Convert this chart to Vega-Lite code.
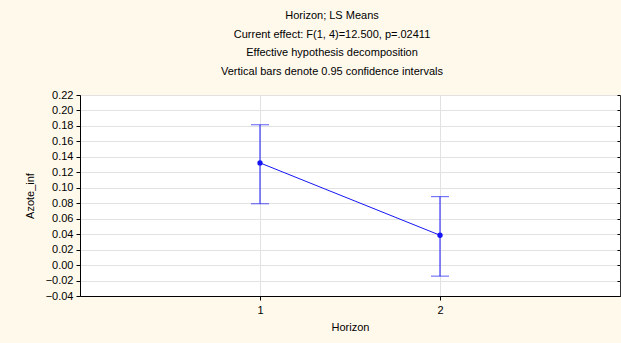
{
  "$schema": "https://vega.github.io/schema/vega-lite/v6.json",
  "autosize": "none",
  "width": 540,
  "height": 201,
  "padding": {"left": 80, "top": 95, "right": 1, "bottom": 47},
  "background": "#FFF9EC",
  "config": {
    "font": "Liberation Sans",
    "view": {"fill": "#FFFFFF", "stroke": "#333333", "strokeWidth": 1},
    "axis": {
      "labelFont": "Liberation Sans",
      "titleFont": "Liberation Sans",
      "labelFontSize": 11,
      "titleFontSize": 11,
      "titleFontWeight": "normal",
      "labelColor": "#000000",
      "titleColor": "#000000",
      "domainColor": "#000000",
      "tickColor": "#000000",
      "gridColor": "#E2E2E2",
      "gridWidth": 1,
      "tickSize": 4,
      "labelOverlap": false
    }
  },
  "title": {
    "text": [
      "Horizon; LS Means",
      "Current effect: F(1, 4)=12.500, p=.02411",
      "Effective hypothesis decomposition",
      "Vertical bars denote 0.95 confidence intervals"
    ],
    "font": "Liberation Sans",
    "fontSize": 11,
    "fontWeight": "normal",
    "color": "#000000",
    "lineHeight": 18.7,
    "anchor": "middle",
    "dx": -18,
    "offset": 12
  },
  "data": {
    "values": [
      {"Horizon": 1, "mean": 0.1322, "lo": 0.0793, "hi": 0.1815},
      {"Horizon": 2, "mean": 0.0386, "lo": -0.0143, "hi": 0.0885}
    ]
  },
  "resolve": {"axis": {"y": "independent"}},
  "layer": [
    {
      "mark": {"type": "line", "color": "#1515F5", "strokeWidth": 1},
      "encoding": {
        "x": {
          "field": "Horizon",
          "type": "quantitative",
          "scale": {"domain": [0, 3], "nice": false},
          "axis": {"values": [1, 2], "title": "Horizon", "format": "d", "labelPadding": 4, "titlePadding": 6}
        },
        "y": {
          "field": "mean",
          "type": "quantitative",
          "scale": {"domain": [-0.04, 0.22], "nice": false, "zero": false},
          "axis": {"values": [-0.04, -0.02, 0, 0.02, 0.04, 0.06, 0.08, 0.1, 0.12, 0.14, 0.16, 0.18, 0.2, 0.22], "format": ".2f", "title": "Azote_inf", "titlePadding": 10, "labelPadding": 3}
        }
      }
    },
    {
      "mark": {"type": "rule", "color": "#1515F5", "strokeWidth": 1},
      "encoding": {
        "x": {"field": "Horizon", "type": "quantitative"},
        "y": {"field": "lo", "type": "quantitative", "axis": {"orient": "right", "labels": false, "title": null, "grid": false, "domain": false, "tickSize": -3, "values": [-0.04, -0.02, 0, 0.02, 0.04, 0.06, 0.08, 0.1, 0.12, 0.14, 0.16, 0.18, 0.2, 0.22]}},
        "y2": {"field": "hi"}
      }
    },
    {
      "mark": {"type": "tick", "orient": "horizontal", "color": "#1515F5", "size": 18, "thickness": 1},
      "encoding": {
        "x": {"field": "Horizon", "type": "quantitative"},
        "y": {"field": "lo", "type": "quantitative", "axis": null}
      }
    },
    {
      "mark": {"type": "tick", "orient": "horizontal", "color": "#1515F5", "size": 18, "thickness": 1},
      "encoding": {
        "x": {"field": "Horizon", "type": "quantitative"},
        "y": {"field": "hi", "type": "quantitative", "axis": null}
      }
    },
    {
      "mark": {"type": "point", "filled": true, "color": "#1515F5", "size": 28, "opacity": 1},
      "encoding": {
        "x": {"field": "Horizon", "type": "quantitative"},
        "y": {"field": "mean", "type": "quantitative", "axis": null}
      }
    }
  ]
}
